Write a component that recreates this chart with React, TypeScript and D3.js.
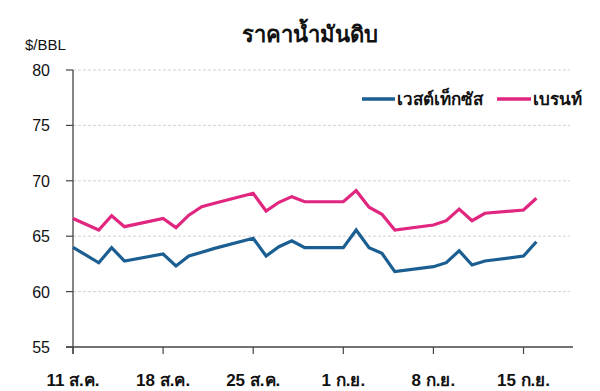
import React from "react";
import * as d3 from "d3";

const title = "ราคาน้ำมันดิบ";
const unitLabel = "$/BBL";
const seriesNames = ["เวสต์เท็กซัส", "เบรนท์"];
const seriesColors = ["#1b5e91", "#e0267f"];

// trading-day offsets from 11 Aug
const days = [0, 2, 3, 4, 7, 8, 9, 10, 11, 14, 15, 16, 17, 18, 21, 22, 23, 24, 25, 28, 29, 30, 31, 32, 35, 36];
const wti = [64.0, 62.6, 63.96, 62.76, 63.39, 62.31, 63.21, 63.55, 63.9, 64.81, 63.21, 64.05, 64.59, 63.96, 63.96, 65.56, 63.96, 63.46, 61.8, 62.25, 62.61, 63.69, 62.4, 62.76, 63.21, 64.5];
const brent = [66.6, 65.56, 66.85, 65.86, 66.6, 65.77, 66.9, 67.66, 67.97, 68.87, 67.27, 68.06, 68.57, 68.11, 68.11, 69.11, 67.61, 66.98, 65.56, 66.01, 66.4, 67.45, 66.4, 67.07, 67.36, 68.42];

const tickDays = [0, 7, 14, 21, 28, 35];
const tickLabels = ["11 ส.ค.", "18 ส.ค.", "25 ส.ค.", "1 ก.ย.", "8 ก.ย.", "15 ก.ย."];
const yTicks = [55, 60, 65, 70, 75, 80];

const W = 600;
const H = 391;
const left = 73;
const right = 573;
const top = 70;
const bottom = 347;
const font = "'Liberation Sans', Arial, 'Noto Sans', 'DejaVu Sans', sans-serif";

export default function App() {
  const x = d3.scaleLinear().domain([0, 39]).range([left, 575]);
  const y = d3.scaleLinear().domain([55, 80]).range([bottom, top]);
  const line = d3
    .line<[number, number]>()
    .x((d) => x(d[0]))
    .y((d) => y(d[1]));
  const series = [wti, brent].map((vals) => days.map((d, i) => [d, vals[i]] as [number, number]));

  return (
    <svg
      width={W}
      height={H}
      style={{ position: "absolute", left: 0, top: 0, background: "#fff" }}
      fontFamily={font}
    >
      <text x={310} y={42} textAnchor="middle" fontSize={22} fontWeight="bold" fill="#111">
        {title}
      </text>
      <text x={25} y={50} fontSize={15} fill="#111">
        {unitLabel}
      </text>
      {yTicks.map((t) => (
        <g key={t}>
          {t !== 55 && (
            <line x1={left} x2={570} y1={y(t)} y2={y(t)} stroke="#d2d2d2" strokeDasharray="3,2" strokeWidth={1} />
          )}
          <line x1={66} x2={left} y1={y(t)} y2={y(t)} stroke="#444" strokeWidth={1.2} />
          <text x={50} y={y(t) + 6} textAnchor="end" fontSize={16} fill="#111">
            {t}
          </text>
        </g>
      ))}
      <line x1={left} x2={left} y1={top} y2={bottom + 7} stroke="#444" strokeWidth={1.3} />
      <line x1={66} x2={right} y1={bottom} y2={bottom} stroke="#444" strokeWidth={1.3} />
      {tickDays.map((d, i) => (
        <g key={d}>
          <line x1={x(d)} x2={x(d)} y1={bottom} y2={bottom + 7} stroke="#444" strokeWidth={1.2} />
          <text x={x(d)} y={386} textAnchor="middle" fontSize={17} fontWeight="bold" fill="#111">
            {tickLabels[i]}
          </text>
        </g>
      ))}
      {series.map((s, i) => (
        <path
          key={i}
          d={line(s) || ""}
          fill="none"
          stroke={seriesColors[i]}
          strokeWidth={3.2}
          strokeLinejoin="miter"
        />
      ))}
      <line x1={362} x2={395} y1={99} y2={99} stroke={seriesColors[0]} strokeWidth={3.5} />
      <text x={397} y={105} fontSize={17} fontWeight="bold" fill="#111">
        {seriesNames[0]}
      </text>
      <line x1={497} x2={531} y1={99} y2={99} stroke={seriesColors[1]} strokeWidth={3.5} />
      <text x={533} y={105} fontSize={17} fontWeight="bold" fill="#111">
        {seriesNames[1]}
      </text>
    </svg>
  );
}
